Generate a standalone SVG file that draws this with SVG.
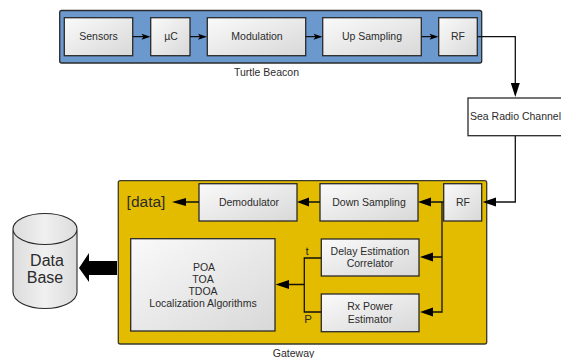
<svg xmlns="http://www.w3.org/2000/svg" width="561" height="358" viewBox="0 0 561 358">
<style>
text{font-family:"Liberation Sans",Arial,sans-serif;fill:#2b2b2b;text-anchor:middle;font-size:10.5px}
.b{fill:url(#g);stroke:#2a2a2a;stroke-width:1.3}
.c{fill:none;stroke:#111;stroke-width:1.3}
.ah{fill:#000;stroke:none}
.lg{font-size:16px}
.md{font-size:11.500px}
</style>
<defs>
<linearGradient id="g" x1="0" y1="0" x2="1" y2="1"><stop offset="0" stop-color="#fafafa"/><stop offset="1" stop-color="#d8d8d8"/></linearGradient>
<linearGradient id="cyl" x1="0" y1="0" x2="1" y2="0"><stop offset="0" stop-color="#dcdcdc"/><stop offset="0.5" stop-color="#f0f0f0"/><stop offset="1" stop-color="#dcdcdc"/></linearGradient>
</defs>
<g id="turtle-beacon"><rect x="59.700" y="10.500" width="422" height="52.500" rx="2" fill="#6c99cd" stroke="#2a2a2a" stroke-width="1.3"/><text x="266.500" y="75.500">Turtle Beacon</text></g>
<g id="gateway"><rect x="118.300" y="180.700" width="368.400" height="163.300" rx="2" fill="#e3bc00" stroke="#3a3a2a" stroke-width="1.3"/><text x="293.500" y="357">Gateway</text></g>
<g id="sensors"><rect class="b" x="64.300" y="17.700" width="68.400" height="38"/><text x="98.500" y="40">Sensors</text></g>
<g id="uc"><rect class="b" x="150.700" y="17.700" width="39.300" height="38"/><text x="171" y="40">µC</text></g>
<g id="modulation"><rect class="b" x="207.300" y="17.700" width="98.400" height="38"/><text x="257" y="40">Modulation</text></g>
<g id="upsampling"><rect class="b" x="322.700" y="17.700" width="98.600" height="38"/><text x="372" y="40">Up Sampling</text></g>
<g id="rf-tx"><rect class="b" x="438.700" y="17.700" width="38.600" height="38"/><text x="458" y="40">RF</text></g>
<g id="channel"><rect x="468" y="98" width="95" height="37.700" fill="#fff" stroke="#2a2a2a" stroke-width="1.3"/><text x="515.500" y="120">Sea Radio Channel</text></g>
<g id="rf-rx"><rect class="b" x="443.700" y="183.700" width="38" height="37.300"/><text x="463" y="206">RF</text></g>
<g id="downsampling"><rect class="b" x="320" y="183.700" width="98" height="37.300"/><text x="369" y="206">Down Sampling</text></g>
<g id="demodulator"><rect class="b" x="199" y="183.700" width="98" height="37.300"/><text x="249" y="206">Demodulator</text></g>
<g id="delay"><rect class="b" x="321.300" y="239" width="97.700" height="37"/><text x="370" y="255">Delay Estimation</text><text x="370" y="267">Correlator</text></g>
<g id="power"><rect class="b" x="321.300" y="294" width="97.700" height="37.700"/><text x="370" y="310">Rx Power</text><text x="370" y="322.500">Estimator</text></g>
<g id="localization"><rect class="b" x="130.700" y="238.700" width="144.300" height="92.300"/><text x="204" y="271">POA</text><text x="203" y="283">TOA</text><text x="203" y="295">TDOA</text><text x="203" y="307">Localization Algorithms</text></g>
<g id="database"><path d="M13 229V292A32 16.500 0 0 0 77 292V229A32 15.500 0 0 0 13 229A32 15.500 0 0 0 77 229" fill="url(#cyl)" stroke="#2a2a2a" stroke-width="1.1"/><text class="lg" x="47" y="266">Data</text><text class="lg" x="45" y="283">Base</text></g>
<g id="labels"><text x="146" y="207" style="font-size:15.500px">[data]</text><text class="md" x="307" y="255">t</text><text class="md" x="308" y="323">P</text></g>
<g id="connectors">
<path class="c" d="M132.700 36.700H145M190 36.700H202M305.700 36.700H317M421.300 36.700H433M477.300 36.700H515.300V90M515.300 135.700V202H492M443.700 202H426M320 202H305M199 202H182M442 202V312H428M442 257H428M321.300 258H304.300V312H321.300M304.300 284.500H285"/>
<g class="ah">
<path d="M150.500 36.700L141.500 33.700L143.500 36.700L141.500 39.700Z"/><path d="M207 36.700L198 33.700L200 36.700L198 39.700Z"/><path d="M322.500 36.700L313.500 33.700L315.500 36.700L313.500 39.700Z"/><path d="M438.500 36.700L429.500 33.700L431.500 36.700L429.500 39.700Z"/>
<path d="M515.300 97L510.800 83H519.800Z"/>
<path d="M482.700 202L496 197.500V206.500Z"/>
<path d="M418 202L431 197.500V206.500Z"/><path d="M297 202L309 197.500V206.500Z"/><path d="M172 202L186 198V206Z"/>
<path d="M420 257L433 252.500V261.500Z"/><path d="M420 312L433 307.500V316.500Z"/>
<path d="M275.600 284.500L289 280V289Z"/>
<path d="M79 268L89 253V261H117V275H89V282Z"/>
</g>
</g>
</svg>
